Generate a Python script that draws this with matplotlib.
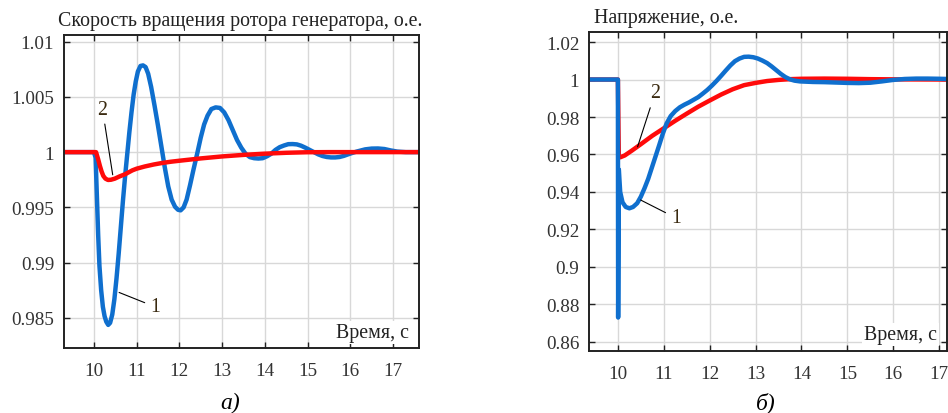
import matplotlib.pyplot as plt

plt.rcParams['font.family'] = ['Liberation Serif', 'DejaVu Serif']
plt.rcParams['font.size'] = 14.3

# Скорость вращения ротора (о.е.), кривая 1 - синяя, кривая 2 - красная
t_w1 = [9.3, 10.00, 10.04, 10.07, 10.10, 10.13, 10.17, 10.21, 10.25, 10.29, 10.335,
        10.38, 10.43, 10.48, 10.53, 10.58, 10.63, 10.68, 10.73, 10.78, 10.83, 10.88,
        10.93, 10.98, 11.03, 11.09, 11.15, 11.21, 11.27, 11.34, 11.42, 11.50, 11.58,
        11.66, 11.74, 11.82, 11.90, 11.97, 12.03, 12.10, 12.17, 12.25, 12.33, 12.42,
        12.50, 12.58, 12.66, 12.75, 12.85, 12.95, 13.05, 13.15, 13.25, 13.35, 13.45,
        13.55, 13.65, 13.75, 13.85, 13.95, 14.05, 14.15, 14.25, 14.35, 14.45, 14.55,
        14.65, 14.75, 14.85, 14.95, 15.05, 15.15, 15.25, 15.35, 15.45, 15.55, 15.65,
        15.75, 15.85, 15.95, 16.05, 16.15, 16.25, 16.35, 16.50, 16.65, 16.80, 16.95,
        17.10, 17.30, 17.61]
w1 = [1.0, 1.0, 0.9995, 0.9960, 0.9925, 0.9897, 0.9875, 0.9860, 0.98515, 0.98465, 0.98436,
      0.98455, 0.9853, 0.9867, 0.9886, 0.9908, 0.9932, 0.9956, 0.9978, 0.9998, 1.0018, 1.0036,
      1.0052, 1.0064, 1.0073, 1.0078, 1.00785, 1.0077, 1.0071, 1.0059, 1.0042, 1.0024, 1.0005,
      0.9986, 0.9969, 0.9957, 0.99505, 0.99478, 0.99473, 0.9950, 0.9957, 0.9970, 0.9984, 0.9999,
      1.0013, 1.0025, 1.0033, 1.0039, 1.00405, 1.0040, 1.0036, 1.0029, 1.0020, 1.0011, 1.0004,
      0.99985, 0.99955, 0.99945, 0.99942, 0.99945, 0.99962, 0.99985, 1.0002, 1.00045, 1.0006, 1.00072,
      1.00073, 1.00070, 1.00058, 1.00040, 1.00020, 1.0, 0.99980, 0.99965, 0.99956, 0.99952, 0.99952,
      0.99956, 0.99966, 0.99980, 0.99993, 1.00005, 1.00015, 1.00025, 1.00032, 1.00033, 1.00028, 1.00015,
      1.00005, 1.0, 1.0]

t_w2 = [9.3, 10.05, 10.10, 10.14, 10.18, 10.22, 10.27, 10.33, 10.40, 10.49, 10.60,
        10.73, 10.90, 11.00, 11.19, 11.40, 11.60, 11.80, 12.00, 12.50, 13.00, 13.50,
        14.00, 14.50, 15.00, 15.50, 17.61]
w2 = [1.0, 1.0, 0.99935, 0.99876, 0.99825, 0.99785, 0.99760, 0.99748, 0.99750, 0.99760, 0.99780,
      0.99800, 0.99835, 0.99850, 0.99870, 0.99888, 0.99902, 0.99913, 0.99922, 0.99943, 0.99961, 0.99975,
      0.99986, 0.99994, 0.99999, 1.0, 1.0]

# Напряжение (о.е.)
t_u1 = [9.37, 10.00, 10.005, 10.02, 10.05, 10.10, 10.17, 10.25, 10.33, 10.42, 10.50,
        10.58, 10.66, 10.74, 10.82, 10.90, 10.98, 11.06, 11.15, 11.25, 11.35, 11.45,
        11.55, 11.65, 11.75, 11.85, 11.95, 12.05, 12.15, 12.25, 12.35, 12.45, 12.55,
        12.65, 12.75, 12.85, 12.95, 13.05, 13.15, 13.25, 13.35, 13.45, 13.55, 13.65,
        13.75, 13.85, 13.97, 14.25, 14.50, 14.75, 15.00, 15.25, 15.50, 15.75, 16.00,
        16.25, 16.50, 16.75, 17.00, 17.17]
u1 = [1.0, 1.0, 0.873, 0.952, 0.940, 0.9345, 0.9320, 0.9313, 0.9320, 0.9340, 0.9375,
      0.9420, 0.9470, 0.9530, 0.9590, 0.9650, 0.9712, 0.9765, 0.9805, 0.9832, 0.9852, 0.9866,
      0.9878, 0.9892, 0.9906, 0.9925, 0.9945, 0.9968, 0.9993, 1.0020, 1.0048, 1.0075, 1.0098,
      1.0112, 1.0121, 1.0122, 1.0119, 1.0112, 1.0101, 1.0088, 1.0070, 1.0050, 1.0030, 1.0013,
      1.0001, 0.9994, 0.9990, 0.9987, 0.9986, 0.9984, 0.9982, 0.9981, 0.9983, 0.9990, 0.9998,
      1.0003, 1.0005, 1.0005, 1.0004, 1.0003]

t_u2 = [9.37, 10.00, 10.02, 10.05, 10.15, 10.30, 10.50, 10.75, 11.00, 11.25, 11.50,
        11.75, 12.00, 12.25, 12.50, 12.75, 13.00, 13.25, 13.50, 13.75, 14.00, 14.50,
        15.00, 15.50, 16.00, 17.17]
u2 = [1.0, 1.0, 0.959, 0.9585, 0.9595, 0.9620, 0.9655, 0.9700, 0.9740, 0.9780, 0.9818,
      0.9855, 0.9888, 0.9920, 0.9948, 0.9970, 0.9982, 0.9992, 0.9998, 1.0002, 1.0004, 1.0005,
      1.0004, 1.0002, 1.0001, 1.0]

x_ticks = [10, 11, 12, 13, 14, 15, 16, 17]
w_ticks = [0.985, 0.99, 0.995, 1.0, 1.005, 1.01]
u_ticks = [0.86, 0.88, 0.9, 0.92, 0.94, 0.96, 0.98, 1.0, 1.02]

blue = '#0f6fce'
red = '#ff0a0a'

fig = plt.figure(figsize=(9.48, 4.14), dpi=100)
ax1 = fig.add_axes([0.0675, 0.157, 0.3745, 0.756])
ax2 = fig.add_axes([0.6213, 0.150, 0.3776, 0.770])


def style_axes(ax, yticks):
    ax.set_xticks(x_ticks)
    ax.set_yticks(yticks)
    ax.set_yticklabels(['%g' % v for v in yticks])
    ax.grid(True, color='#d8d8d8', linewidth=1.0)
    ax.set_axisbelow(True)
    ax.tick_params(direction='in', length=4, width=1, top=True, right=True,
                   colors='#222222', labelcolor='#333333', labelsize=13.8)
    ax.tick_params(axis='x', pad=10)
    ax.tick_params(axis='y', pad=7)
    for s in ax.spines.values():
        s.set_linewidth(1.4)
        s.set_color('#222222')
    ax.text(0.972, 0.05, 'Время, с', transform=ax.transAxes, ha='right', va='center',
            color='#222222', bbox=dict(facecolor='white', edgecolor='none', pad=1.5))


# Левый график: скорость ротора (красная поверх синей)
ax1.plot(t_w1, w1, color=blue, linewidth=3.2, solid_joinstyle='round')
ax1.plot(t_w2, w2, color=red, linewidth=3.2, solid_joinstyle='round')
ax1.set_xlim(9.3, 17.61)
ax1.set_ylim(0.98227, 1.0106)
style_axes(ax1, w_ticks)
ax1.text(0.495, 1.015, 'Скорость вращения ротора генератора, о.е.', transform=ax1.transAxes,
         ha='center', va='bottom', color='#222222')
ax1.annotate('2', xy=(10.45, 0.9977), xytext=(10.2, 1.0039), ha='center', va='center',
             color='#3a2a10', arrowprops=dict(arrowstyle='-', color='black', lw=0.8))
ax1.annotate('1', xy=(10.53, 0.98739), xytext=(11.43, 0.9860), ha='center', va='center',
             color='#3a2a10', arrowprops=dict(arrowstyle='-', color='black', lw=0.8))

# Правый график: напряжение (синяя поверх красной)
ax2.plot(t_u2, u2, color=red, linewidth=3.2, solid_joinstyle='round')
ax2.plot(t_u1, u1, color=blue, linewidth=3.2, solid_joinstyle='round')
ax2.set_xlim(9.37, 17.17)
ax2.set_ylim(0.8552, 1.0253)
style_axes(ax2, u_ticks)
ax2.text(0.014, 1.015, 'Напряжение, о.е.', transform=ax2.transAxes,
         ha='left', va='bottom', color='#222222')
ax2.annotate('2', xy=(10.41, 0.9627), xytext=(10.81, 0.9929), ha='center', va='center',
             color='#3a2a10', arrowprops=dict(arrowstyle='-', color='black', lw=0.8))
ax2.annotate('1', xy=(10.44, 0.9364), xytext=(11.26, 0.9262), ha='center', va='center',
             color='#3a2a10', arrowprops=dict(arrowstyle='-', color='black', lw=0.8))

# Подписи под графиками
fig.text(230 / 948, 1 - 403 / 414, 'а)', style='italic', fontsize=17, ha='center', va='center')
fig.text(766 / 948, 1 - 403 / 414, 'б)', style='italic', fontsize=17, ha='center', va='center')

fig.savefig('out.png', dpi=100)
